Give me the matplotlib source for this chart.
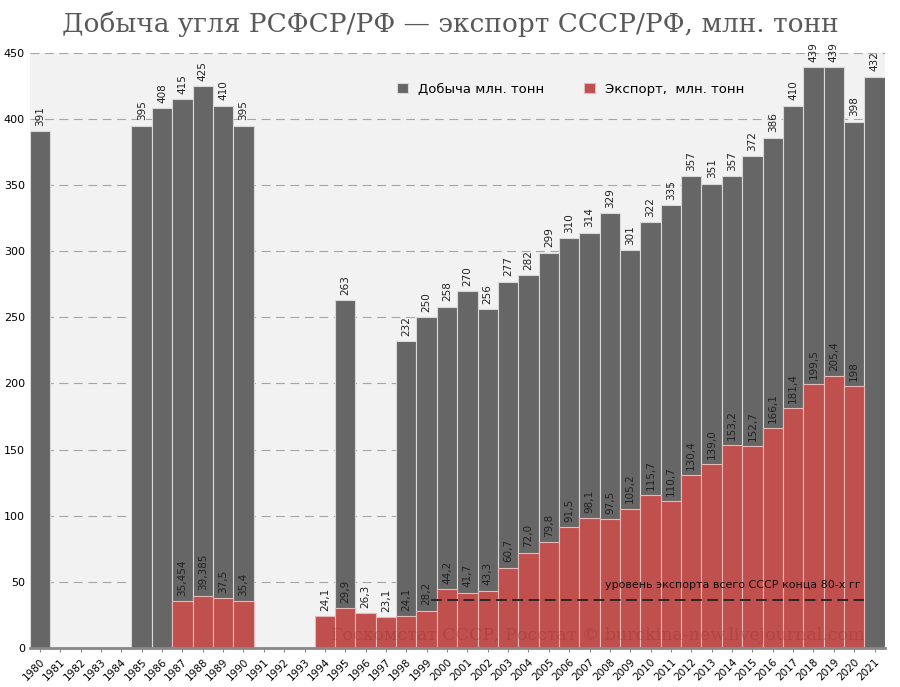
import numpy as np
import matplotlib.pyplot as plt

years = list(range(1980, 2022))
prod_years = [1980, 1985, 1986, 1987, 1988, 1989, 1990, 1995, 1998, 1999, 2000, 2001, 2002,
              2003, 2004, 2005, 2006, 2007, 2008, 2009, 2010, 2011, 2012, 2013, 2014, 2015,
              2016, 2017, 2018, 2019, 2020, 2021]
prod = [391, 395, 408, 415, 425, 410, 395, 263, 232, 250, 258, 270, 256,
        277, 282, 299, 310, 314, 329, 301, 322, 335, 357, 351, 357, 372,
        386, 410, 439, 439, 398, 432]
exp_years = [1987, 1988, 1989, 1990, 1994, 1995, 1996, 1997, 1998, 1999, 2000, 2001, 2002,
             2003, 2004, 2005, 2006, 2007, 2008, 2009, 2010, 2011, 2012, 2013, 2014, 2015,
             2016, 2017, 2018, 2019, 2020]
exp = [35.454, 39.385, 37.5, 35.4, 24.1, 29.9, 26.3, 23.1, 24.1, 28.2, 44.2, 41.7, 43.3,
       60.7, 72.0, 79.8, 91.5, 98.1, 97.5, 105.2, 115.7, 110.7, 130.4, 139.0, 153.2, 152.7,
       166.1, 181.4, 199.5, 205.4, 198]
ussr_level = 36.5

grey = '#666666'
red = '#c0504d'

fig = plt.figure(figsize=(9, 6.87), dpi=100)
ax = fig.add_axes([0.033, 0.057, 0.95, 0.866])
ax.set_facecolor('#f2f2f2')

px = [years.index(y) for y in prod_years]
ex = [years.index(y) for y in exp_years]
ax.bar(px, prod, width=1, color=grey, edgecolor='#d9d9d9', linewidth=0.8, label='Добыча млн. тонн')
ax.bar(ex, exp, width=1, color=red, edgecolor='#e6b8b7', linewidth=0.8, label='Экспорт,  млн. тонн')

for x, v in zip(px, prod):
    ax.text(x, v + 4, f'{v}', rotation=90, ha='center', va='bottom', fontsize=7.5, color='#222222', clip_on=False)
for x, v in zip(ex, exp):
    s = f'{v:g}'.replace('.', ',')
    if v in (72.0, 139.0):
        s = f'{v:.1f}'.replace('.', ',')
    ax.text(x, v + 4, s, rotation=90, ha='center', va='bottom', fontsize=7.5, color='#222222')

i0 = years.index(1999)
i1 = years.index(2020)
ax.plot([i0 + 0.2, i1 + 0.5], [ussr_level, ussr_level], ls=(0, (6, 3)), color='#222222', lw=1.3)
ax.text(i1 + 0.3, ussr_level + 7, 'уровень экспорта всего СССР конца 80-х гг', ha='right', va='bottom',
        fontsize=8, color='#111111')

ax.text(14.3, 3, 'Госкомстат СССР, Росстат © burckina-new.livejournal.com', ha='left', va='bottom',
        fontsize=12.5, family='DejaVu Serif', color='#8b2a2a', alpha=0.3)

ax.set_xlim(-0.5, len(years) - 0.5)
ax.set_ylim(0, 450)
ax.set_yticks(np.arange(0, 451, 50))
ax.yaxis.grid(True, ls=(0, (8, 5)), color='#a6a6a6', lw=0.8)
ax.set_axisbelow(True)
ax.set_xticks(range(len(years)))
ax.set_xticklabels([str(y) for y in years], rotation=45, ha='right', rotation_mode='anchor', fontsize=7.5)
ax.tick_params(axis='y', labelsize=8, length=0)
ax.tick_params(axis='x', length=3, color='#888888')
for s in ['top', 'right', 'left']:
    ax.spines[s].set_visible(False)
ax.spines['bottom'].set_color('#888888')
ax.spines['bottom'].set_linewidth(2)

ax.legend(loc='upper right', bbox_to_anchor=(0.85, 0.97), ncol=2, frameon=False, fontsize=9.5,
          handlelength=0.8, handleheight=0.8, columnspacing=3)

fig.text(0.5, 0.965, 'Добыча угля РСФСР/РФ — экспорт СССР/РФ, млн. тонн', ha='center', va='center',
         fontsize=19, family='DejaVu Serif', color='#595959')

fig.savefig('out.png', dpi=100)
